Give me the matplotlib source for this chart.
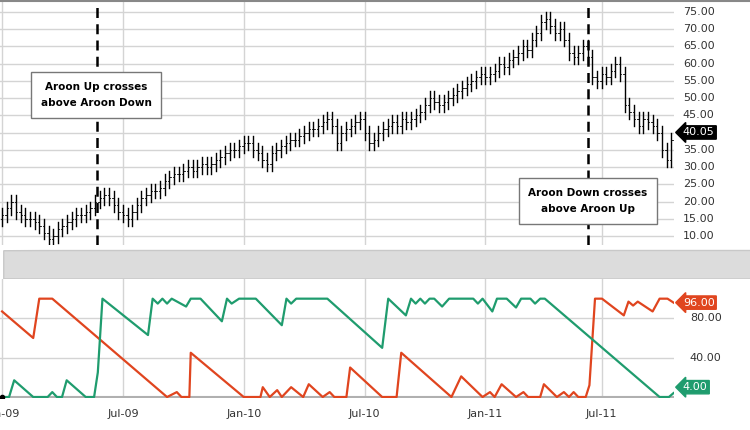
import matplotlib
matplotlib.use("Agg")
import matplotlib.pyplot as plt
from matplotlib.patches import FancyBboxPatch

closes = [16,18,20,17,16,15,15,14,13,11,
          9,10,12,13,14,15,16,16,17,18,
          20,21,22,21,19,17,16,15,17,19,
          21,22,23,23,24,26,27,28,28,29,
          30,29,30,31,30,31,32,33,34,35,
          35,36,37,37,35,34,32,31,34,35,
          36,37,38,38,39,40,41,41,42,43,
          44,42,37,40,41,42,43,44,40,37,
          38,40,41,42,43,42,44,43,44,45,
          46,48,50,49,48,49,50,51,52,53,
          54,55,56,57,56,57,58,60,59,61,
          62,63,65,64,67,69,72,73,71,69,
          70,67,63,62,63,65,62,56,55,57,
          56,58,60,57,48,46,44,42,44,43,
          42,40,35,32,38]
opens = [15] + closes[:-1]

down_w = [0,6.7,8.0,10.8,35.5,37.6,38.6,40.3,40.6,52,55.6,56.1,57.6,59.2,60.2,62.2,64.8,66,69,70.5,71.5,
          74.1,74.9,81.8,84.9,85.9,96.7,98.8,103.4,105,106,107.5,110.6,112.2,113.2,115.8,116.6,119.4,
          120.9,122,123,124,125.6,126.4,127.6,129.1,133.8,134.8,135.8,136.8,140,141.5,143.2,144.5]
down_v = [87,60,100,100,0,5,0,0,45,0,0,10,0,7,0,10,0,13,0,5,0,
          0,30,0,0,45,0,21,0,5,0,13,0,5,0,0,13,0,
          5,0,5,0,0,12,100,100,83,97,93,97,87,100,100,96]
up_w = [0,1.5,2.6,6.7,9.8,10.8,11.8,12.9,13.9,18,19.8,20.6,21.6,31.4,32.4,33.5,34.5,35.5,36.5,39.6,40.6,
        42.7,47.3,48.4,49.4,51,54.6,60.2,61.2,62.2,63.3,70,81.8,83.1,86.9,88,89,90,91,92,93,94.7,96.2,
        101.4,102.4,103.4,105.5,106.5,108.6,110.6,111.7,113.7,114.7,115.8,116.8,141.5,143.5,144.5]
up_v = [0,0,17,0,0,5,0,0,17,0,0,25,100,63,100,95,100,95,100,92,100,
        100,77,100,95,100,100,73,100,95,100,100,50,100,83,100,95,100,95,100,100,92,100,
        100,95,100,87,100,100,91,100,100,95,100,100,0,0,4]

tick_weeks = [0,26,52,78,104,129]
tick_labels = ["Jan-09","Jul-09","Jan-10","Jul-10","Jan-11","Jul-11"]
price_ticks = list(range(10, 80, 5))

GREEN = "#1f9c6e"; RED = "#e0451f"
W, H = 750, 430
fig = plt.figure(figsize=(7.5, 4.3), dpi=100)
def box(x0, y0, x1, y1):
    return [x0/W, 1-y1/H, (x1-x0)/W, (y1-y0)/H]

ax1 = fig.add_axes(box(0, 2, 674, 245))
ax2 = fig.add_axes(box(0, 279, 674, 398))
band = fig.add_axes(box(0, 249, 750, 279)); band.axis("off")
band.add_patch(FancyBboxPatch((0.005, 0), 1.2, 0.95, boxstyle="round,pad=0,rounding_size=0.2",
               fc="#dcdcdc", ec="#c8c8c8", transform=band.transAxes, mutation_aspect=30/750))

xl = (-0.45, 144.6)
for ax in (ax1, ax2):
    ax.set_xlim(*xl)
    for s in ax.spines.values(): s.set_visible(False)
    ax.tick_params(length=0)
    for t in tick_weeks:
        ax.axvline(t, color="#d4d4d4", lw=1, zorder=0)

for i, (o, c) in enumerate(zip(opens, closes)):
    hi = max(o, c) + 2.0; lo = min(o, c) - 2.0
    ax1.plot([i, i], [lo, hi], color="black", lw=1.0)
    ax1.plot([i-0.3, i], [o, o], color="black", lw=0.6)
    ax1.plot([i, i+0.3], [c, c], color="black", lw=0.6)
ax1.set_ylim(7.4, 77.9)
for p in price_ticks:
    ax1.axhline(p, color="#d4d4d4", lw=1, zorder=0)
ax1.set_xticks([]); ax1.set_yticks([])
for p in price_ticks:
    if p == 40: continue
    ax1.text(146.5, p, f"{p:.2f}", fontsize=8, color="#333", va="center", ha="left",
             clip_on=False)
ax1.annotate("40.05", xy=(146.5, 40.05), xycoords="data", fontsize=8, color="white", va="center",
             ha="left", annotation_clip=False,
             bbox=dict(boxstyle="larrow,pad=0.15", fc="black", ec="black"))

for wk in (20.4, 126.0):
    ax1.axvline(wk, color="black", lw=1.8, ls=(0, (4, 2.5)), zorder=3)
fig.text(96/W, 1-95/H, "Aroon Up crosses\nabove Aroon Down", ha="center", va="center",
         fontsize=7.5, fontweight="bold", linespacing=1.8,
         bbox=dict(boxstyle="square,pad=0.9", fc="white", ec="#777", lw=1), zorder=5)
fig.text(588/W, 1-201/H, "Aroon Down crosses\nabove Aroon Up", ha="center", va="center",
         fontsize=7.5, fontweight="bold", linespacing=1.8,
         bbox=dict(boxstyle="square,pad=0.9", fc="white", ec="#777", lw=1), zorder=5)

ax2.plot(down_w, down_v, color=RED, lw=1.6, zorder=3)
ax2.plot(up_w, up_v, color=GREEN, lw=1.6, zorder=3)
ax2.plot([0], [0], "o", color="black", ms=3, zorder=4)
ax2.set_ylim(-1, 120)
for v in (40, 80):
    ax2.axhline(v, color="#d4d4d4", lw=1, zorder=0)
ax2.axhline(0, color="#b0b0b0", lw=1.5, zorder=0)
ax2.set_yticks([])
ax2.set_xticks(tick_weeks)
ax2.set_xticklabels(tick_labels, fontsize=8, color="#333")
ax2.tick_params(axis="x", pad=8)
for v in (40, 80):
    ax2.text(148, v, f"{v:.2f}", fontsize=8, color="#333", va="center", clip_on=False)
ax2.annotate("96.00", xy=(146.5, 96), fontsize=8, color="white", va="center", ha="left",
             annotation_clip=False, bbox=dict(boxstyle="larrow,pad=0.15", fc=RED, ec=RED))
ax2.annotate("4.00", xy=(146.5, 10), fontsize=8, color="white", va="center", ha="left",
             annotation_clip=False, bbox=dict(boxstyle="larrow,pad=0.15", fc=GREEN, ec=GREEN))
fig.add_artist(plt.Line2D([0, 1], [1-1/H, 1-1/H], color="#888", lw=1.5))
fig.savefig("out.png", dpi=100)
